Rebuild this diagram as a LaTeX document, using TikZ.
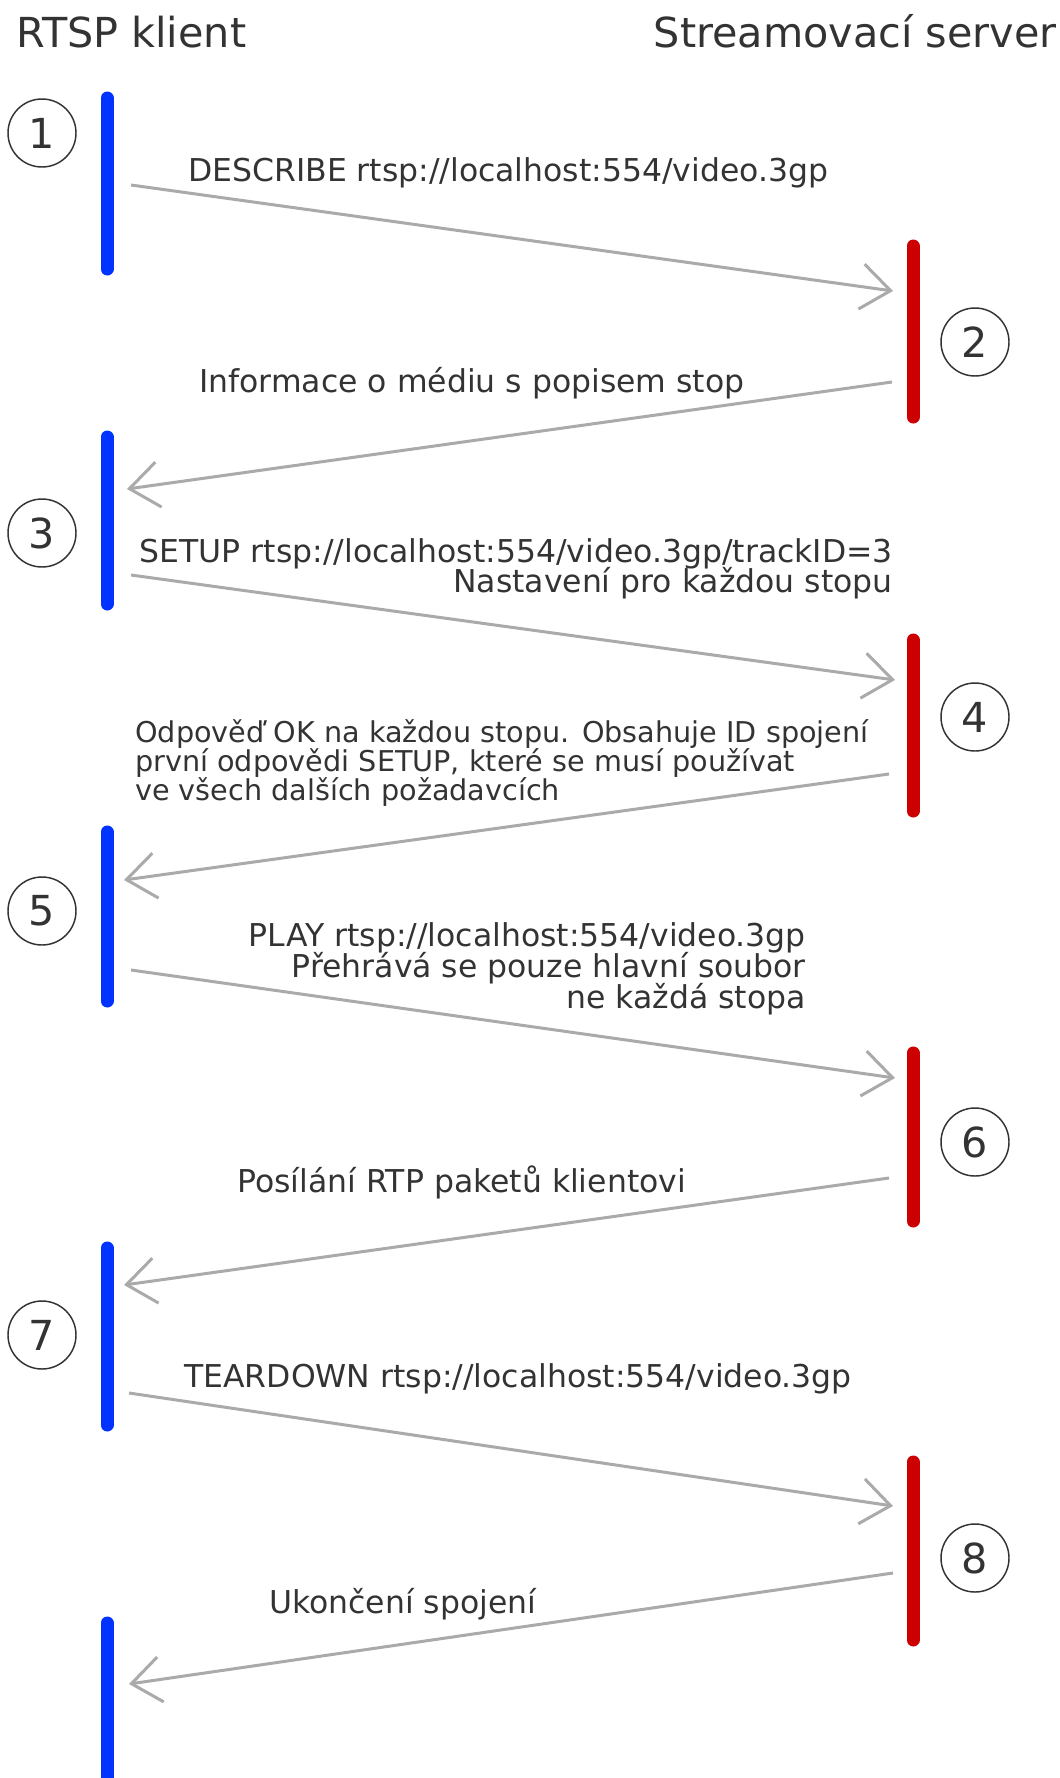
\documentclass[tikz,border=0pt]{standalone}
\usepackage{fontspec}
\setmainfont{DejaVu Sans}
\usepackage{xcolor}
\usetikzlibrary{arrows.meta}

\definecolor{klientcol}{HTML}{0033FF}
\definecolor{servercol}{HTML}{CC0000}
\definecolor{msgcol}{HTML}{AAAAAA}
\definecolor{textcol}{HTML}{333333}
\newcommand{\lblfont}[2]{\fontsize{#1}{#2}\selectfont\lineskiplimit=-20pt\relax}

\begin{document}
\begin{tikzpicture}[x=0.75pt,y=-0.75pt,
  title/.style={inner sep=0pt,text=textcol,font=\fontsize{31}{36}\selectfont},
  lbl/.style={inner sep=0pt,text=textcol,font={\lblfont{23.6}{22.5}}},
  num/.style={circle,draw=textcol,line width=1.1pt,inner sep=0pt,minimum size=51pt,
    text=textcol,font=\fontsize{31}{31}\selectfont},
  klient/.style={klientcol,line width=9.75pt,line cap=round},
  server/.style={servercol,line width=9.75pt,line cap=round},
  msg/.style={msgcol,line width=2.25pt,-{Straight Barb[length=22pt,width=34pt]}}]
\useasboundingbox (0,0) rectangle (1060,1778);

% hlavicky
\node[title,anchor=base west] (klient) at (16,47) {RTSP klient};
\node[title,anchor=base east] (server) at (1057,47) {Streamovací server};

% casove useky klienta a serveru
\draw[klient] (107,98) -- (107,269);
\draw[klient] (107,437) -- (107,604);
\draw[klient] (107,832) -- (107,1001);
\draw[klient] (107,1248) -- (107,1425);
\draw[klient] (107,1623) -- (107,1800);
\draw[server] (913,246) -- (913,417);
\draw[server] (913,640) -- (913,811);
\draw[server] (913,1053) -- (913,1221);
\draw[server] (913,1462) -- (913,1640);

% kroky
\node[num] (k1) at (42,133) {1};
\node[num] (k2) at (975,342) {2};
\node[num] (k3) at (42,533) {3};
\node[num] (k4) at (975,717) {4};
\node[num] (k5) at (42,911) {5};
\node[num] (k6) at (975,1142) {6};
\node[num] (k7) at (42,1335) {7};
\node[num] (k8) at (975,1558) {8};

% konce zprav
\coordinate (c1) at (131,185);  \coordinate (s1) at (893,291);
\coordinate (s2) at (892,382);  \coordinate (c2) at (127,489);
\coordinate (c3) at (131,575);  \coordinate (s3) at (895,680);
\coordinate (s4) at (889,774);  \coordinate (c4) at (124,880);
\coordinate (c5) at (131,970);  \coordinate (s5) at (895,1078);
\coordinate (s6) at (889,1178); \coordinate (c6) at (124,1285);
\coordinate (c7) at (129,1393); \coordinate (s7) at (893,1506);
\coordinate (s8) at (893,1573); \coordinate (c8) at (129,1684);

% zpravy
\draw[msg] (c1) -- (s1);
\draw[msg] (s2) -- (c2);
\draw[msg] (c3) -- (s3);
\draw[msg] (s4) -- (c4);
\draw[msg] (c5) -- (s5);
\draw[msg] (s6) -- (c6);
\draw[msg] (c7) -- (s7);
\draw[msg] (s8) -- (c8);

% popisy (u viceradkovych je base na poslednim radku)
\node[lbl,anchor=base west] (t1) at (188,181) {DESCRIBE rtsp://localhost:554/video.3gp};
\node[lbl,anchor=base west] (t2) at (199,392) {Informace o médiu s popisem stop};
\node[lbl,anchor=base east,align=right] (t3) at (893,592)
  {SETUP rtsp://localhost:554/video.3gp/trackID=3\\Nastavení pro každou stopu};
\node[lbl,anchor=base west,align=left,font={\lblfont{21.5}{21.4}}] (t4) at (135,800)
  {Odpověď OK na každou stopu. Obsahuje ID spojení\\první odpovědi SETUP, které se musí používat\\ve všech dalších požadavcích};
\node[lbl,anchor=base east,align=right,font={\lblfont{23.6}{23.2}}] (t5) at (806,1008)
  {PLAY rtsp://localhost:554/video.3gp\\Přehrává se pouze hlavní soubor\\ne každá stopa};
\node[lbl,anchor=base west] (t6) at (237,1192) {Posílání RTP paketů klientovi};
\node[lbl,anchor=base west] (t7) at (184,1387) {TEARDOWN rtsp://localhost:554/video.3gp};
\node[lbl,anchor=base west] (t8) at (269,1613) {Ukončení spojení};
\end{tikzpicture}
\end{document}
